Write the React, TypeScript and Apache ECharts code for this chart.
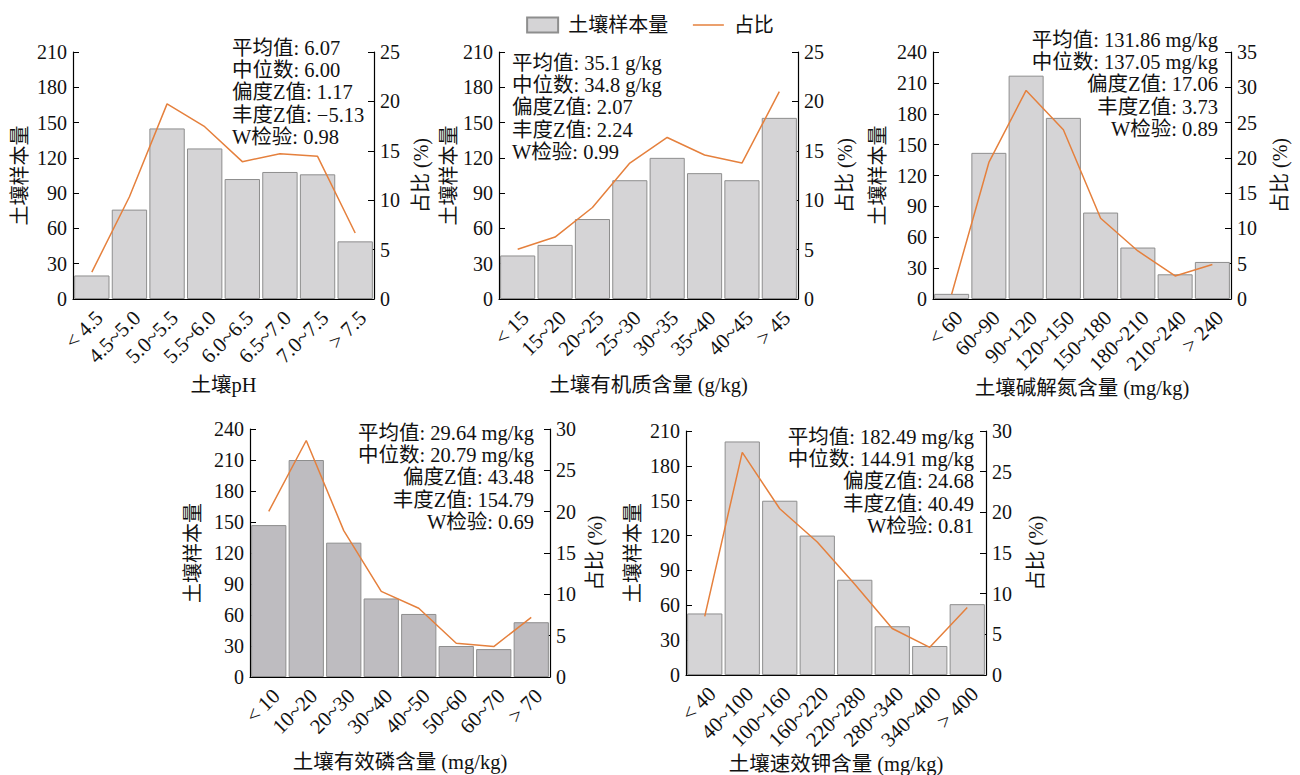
import React, { useEffect, useRef } from "react";
import * as echarts from "echarts";

const FONT = '"Liberation Serif", "Noto Sans CJK SC", serif';

// ---- data ----
const phCats = ["< 4.5", "4.5~5.0", "5.0~5.5", "5.5~6.0", "6.0~6.5", "6.5~7.0", "7.0~7.5", "> 7.5"];
const phCounts = [20, 76, 145, 128, 102, 108, 106, 49];
const phPct = [2.72, 10.35, 19.75, 17.44, 13.9, 14.71, 14.44, 6.68];
const phStats = ["平均值: 6.07", "中位数: 6.00", "偏度Z值: 1.17", "丰度Z值: −5.13", "W检验: 0.98"];

const omCats = ["< 15", "15~20", "20~25", "25~30", "30~35", "35~40", "40~45", "> 45"];
const omCounts = [37, 46, 68, 101, 120, 107, 101, 154];
const omPct = [5.04, 6.27, 9.26, 13.76, 16.35, 14.58, 13.76, 20.98];
const omStats = ["平均值: 35.1 g/kg", "中位数: 34.8 g/kg", "偏度Z值: 2.07", "丰度Z值: 2.24", "W检验: 0.99"];

const anCats = ["< 60", "60~90", "90~120", "120~150", "150~180", "180~210", "210~240", "> 240"];
const anCounts = [5, 142, 217, 176, 84, 50, 24, 36];
const anPct = [0.68, 19.35, 29.56, 23.98, 11.44, 6.81, 3.27, 4.9];
const anStats = ["平均值: 131.86 mg/kg", "中位数: 137.05 mg/kg", "偏度Z值: 17.06", "丰度Z值: 3.73", "W检验: 0.89"];

const apCats = ["< 10", "10~20", "20~30", "30~40", "40~50", "50~60", "60~70", "> 70"];
const apCounts = [147, 210, 130, 76, 61, 30, 27, 53];
const apPct = [20.03, 28.61, 17.71, 10.35, 8.31, 4.09, 3.68, 7.22];
const apStats = ["平均值: 29.64 mg/kg", "中位数: 20.79 mg/kg", "偏度Z值: 43.48", "丰度Z值: 154.79", "W检验: 0.69"];

const akCats = ["< 40", "40~100", "100~160", "160~220", "220~280", "280~340", "340~400", "> 400"];
const akCounts = [53, 201, 150, 120, 82, 42, 25, 61];
const akPct = [7.22, 27.38, 20.44, 16.35, 11.17, 5.72, 3.41, 8.31];
const akStats = ["平均值: 182.49 mg/kg", "中位数: 144.91 mg/kg", "偏度Z值: 24.68", "丰度Z值: 40.49", "W检验: 0.81"];

const xNames = ["土壤pH", "土壤有机质含量 (g/kg)", "土壤碱解氮含量 (mg/kg)", "土壤有效磷含量 (mg/kg)", "土壤速效钾含量 (mg/kg)"];
const countName = "土壤样本量";
const pctName = "占比";
const leftAxisName = "土壤样本量";
const rightAxisName = "占比 (%)";

// ---- layout / style ----
const panels = [
  { cats: phCats, counts: phCounts, pct: phPct, stats: phStats, xName: xNames[0],
    grid: { left: 73, top: 52, width: 301, height: 247 }, lMax: 210, rMax: 25,
    lGap: 43, rGap: 37, xGap: 76, barColor: "#d5d4d6",
    stat: { x: 232, y: 48, align: "left" } },
  { cats: omCats, counts: omCounts, pct: omPct, stats: omStats, xName: xNames[1],
    grid: { left: 499, top: 52, width: 299, height: 247 }, lMax: 210, rMax: 25,
    lGap: 38, rGap: 37, xGap: 76, barColor: "#d5d4d6",
    stat: { x: 512, y: 63, align: "left" } },
  { cats: anCats, counts: anCounts, pct: anPct, stats: anStats, xName: xNames[2],
    grid: { left: 933, top: 52, width: 298, height: 247 }, lMax: 240, rMax: 35,
    lGap: 45, rGap: 39, xGap: 77, barColor: "#d5d4d6",
    stat: { x: 1218, y: 40, align: "right" } },
  { cats: apCats, counts: apCounts, pct: apPct, stats: apStats, xName: xNames[3],
    grid: { left: 250, top: 429, width: 300, height: 248 }, lMax: 240, rMax: 30,
    lGap: 47, rGap: 35, xGap: 75, barColor: "#bebcc0",
    stat: { x: 534, y: 433, align: "right" } },
  { cats: akCats, counts: akCounts, pct: akPct, stats: akStats, xName: xNames[4],
    grid: { left: 686, top: 431, width: 300, height: 248 }, lMax: 210, rMax: 30,
    lGap: 43, rGap: 40, xGap: 73, barColor: "#d5d4d6",
    stat: { x: 974, y: 437, align: "right" } },
];

const LINE_COLOR = "#e5803d";
const TXT = { fontFamily: FONT, fontSize: 20, color: "#111" };

export default function App() {
  const ref = useRef<HTMLDivElement>(null);
  useEffect(() => {
    if (!ref.current) return;
    const chart = echarts.init(ref.current, undefined, { renderer: "svg" });
    const grids: any[] = [];
    const xAxes: any[] = [];
    const yAxes: any[] = [];
    const series: any[] = [];
    const graphics: any[] = [];
    panels.forEach((p, i) => {
      grids.push({ ...p.grid, containLabel: false });
      xAxes.push({
        type: "category", gridIndex: i, data: p.cats,
        name: p.xName, nameLocation: "middle", nameGap: p.xGap,
        nameTextStyle: { ...TXT, fontSize: 20.5 },
        axisLine: { show: true, lineStyle: { color: "#000", width: 1.2 } },
        axisTick: { show: false },
        axisLabel: { ...TXT, fontSize: 21, rotate: 45, margin: 8, verticalAlign: "top", interval: 0 },
        splitLine: { show: false },
      });
      yAxes.push({
        type: "value", gridIndex: i, position: "left", min: 0, max: p.lMax, interval: 30,
        name: leftAxisName, nameLocation: "middle", nameRotate: 90, nameGap: p.lGap,
        nameTextStyle: { ...TXT },
        axisLine: { show: true, lineStyle: { color: "#000", width: 1.2 } },
        axisTick: { show: true, inside: true, length: 6, lineStyle: { color: "#000" } },
        axisLabel: { ...TXT, margin: 6 },
        splitLine: { show: false },
      });
      yAxes.push({
        type: "value", gridIndex: i, position: "right", min: 0, max: p.rMax, interval: 5,
        name: rightAxisName, nameLocation: "middle", nameRotate: 90, nameGap: p.rGap,
        nameTextStyle: { ...TXT },
        axisLine: { show: true, lineStyle: { color: "#000", width: 1.2 } },
        axisTick: { show: true, inside: true, length: 6, lineStyle: { color: "#000" } },
        axisLabel: { ...TXT, margin: 6 },
        splitLine: { show: false },
      });
      series.push({
        type: "bar", name: countName, xAxisIndex: i, yAxisIndex: i * 2, data: p.counts,
        barCategoryGap: "6%",
        itemStyle: { color: p.barColor, borderColor: "#8e8e8e", borderWidth: 1 },
      });
      series.push({
        type: "line", name: pctName, xAxisIndex: i, yAxisIndex: i * 2 + 1, data: p.pct,
        symbol: "none", showSymbol: false,
        lineStyle: { color: LINE_COLOR, width: 1.5 }, itemStyle: { color: LINE_COLOR },
      });
      p.stats.forEach((s, k) => {
        graphics.push({
          type: "text", x: p.stat.x, y: p.stat.y + k * 22.2,
          style: { text: s, font: `20.5px ${FONT}`, fill: "#111", textAlign: p.stat.align, textVerticalAlign: "middle" },
          z: 100,
        });
      });
    });
    chart.setOption({
      animation: false,
      backgroundColor: "#fff",
      textStyle: { fontFamily: FONT },
      legend: {
        top: 10, left: "center", itemWidth: 31, itemHeight: 15, itemGap: 24,
        textStyle: { ...TXT, padding: [0, 0, 0, 5] },
        data: [
          { name: countName, icon: "rect" },
          { name: pctName, itemStyle: { opacity: 0 }, lineStyle: { color: LINE_COLOR, width: 1.5 } },
        ],
      },
      grid: grids, xAxis: xAxes, yAxis: yAxes, series, graphic: graphics,
    });
    return () => chart.dispose();
  }, []);
  return <div ref={ref} style={{ position: "absolute", left: 0, top: 0, width: 1300, height: 775 }} />;
}
